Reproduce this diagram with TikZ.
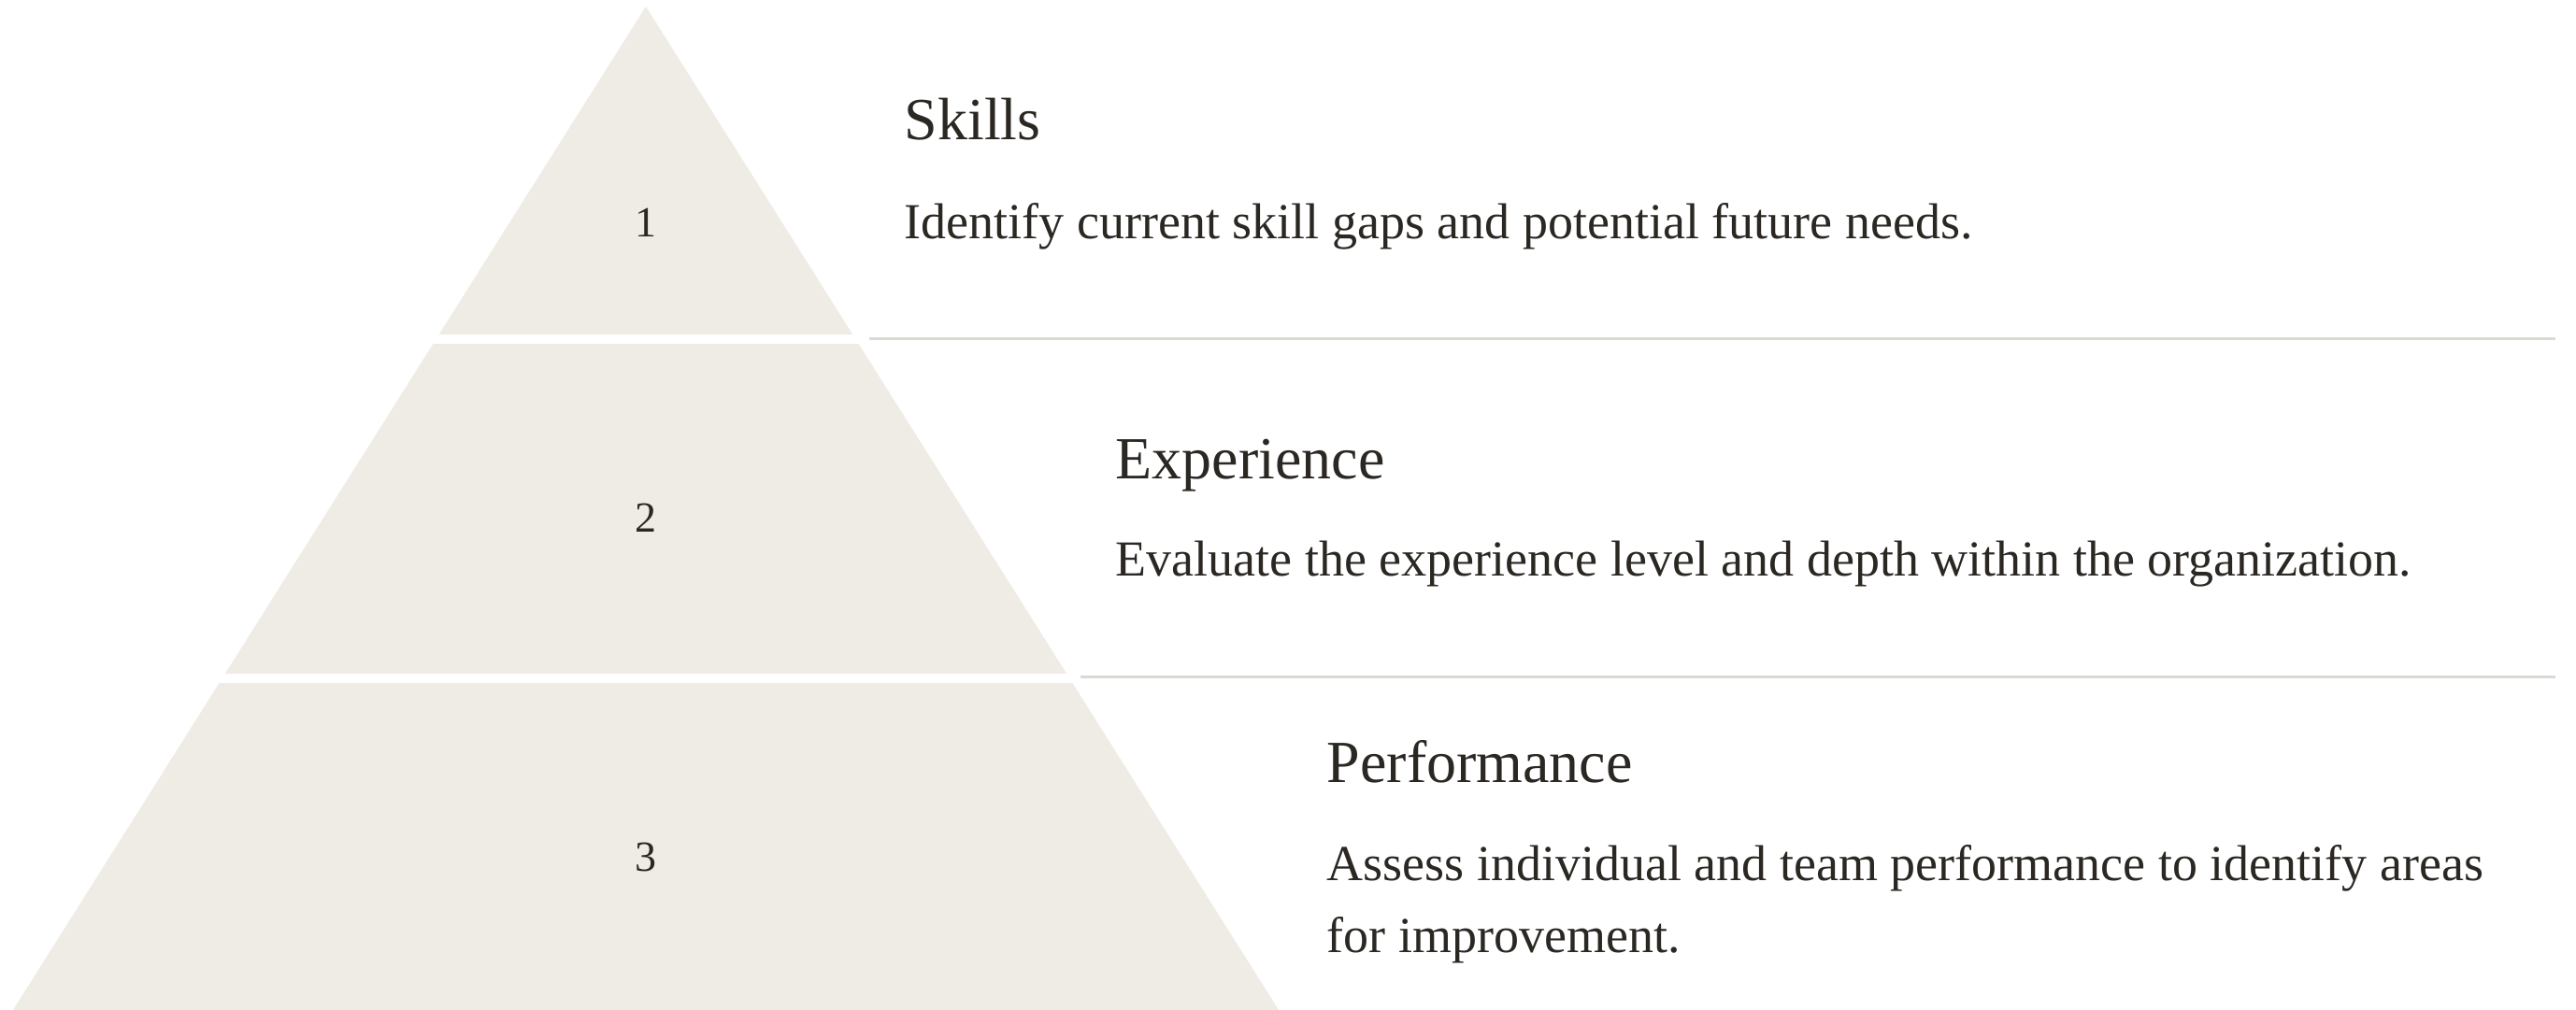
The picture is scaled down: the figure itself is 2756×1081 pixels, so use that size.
\documentclass[tikz,border=0pt]{standalone}
\usepackage{fontspec}
\setmainfont{Liberation Serif}
\definecolor{tierfill}{HTML}{EFECE5}
\definecolor{ink}{HTML}{2B2823}
\definecolor{rule}{HTML}{DCD9D2}
\begin{document}
\begin{tikzpicture}[x=0.25pt,y=-0.25pt,
  tier/.style={fill=tierfill,draw=none},
  num/.style={anchor=base,inner sep=0pt,text=ink,font=\fontsize{11.5pt}{11.5pt}\selectfont},
  head/.style={anchor=base west,inner sep=0pt,text=ink,font=\fontsize{16pt}{16pt}\selectfont},
  body/.style={anchor=base west,inner sep=0pt,text=ink,font=\fontsize{13.5pt}{19.25pt}\selectfont},
  sep/.style={draw=rule,line width=0.75pt}]
\useasboundingbox (0,0) rectangle (2756,1081);
\fill[white] (0,0) rectangle (2756,1081);

% pyramid tiers (apex 691,7; base 14..1368 at y=1081)
\path[tier] (691,7) -- (912.3,358) -- (469.7,358) -- cycle;
\path[tier] (463.4,368) -- (918.6,368) -- (1141.1,721) -- (240.9,721) -- cycle;
\path[tier] (234.6,731) -- (1147.4,731) -- (1368,1081) -- (14,1081) -- cycle;

% tier numbers
\node[num] (n1) at (691,253) {1};
\node[num] (n2) at (691,569) {2};
\node[num] (n3) at (691,932) {3};

% separators
\coordinate (s1a) at (930,362.5);
\coordinate (s1b) at (2734,362.5);
\coordinate (s2a) at (1156,724.5);
\coordinate (s2b) at (2734,724.5);
\draw[sep] (s1a) -- (s1b);
\draw[sep] (s2a) -- (s2b);

% labels
\node[head] (h1) at (967,150) {Skills};
\node[body] (b1) at (967,255) {Identify current skill gaps and potential future needs.};
\node[head] (h2) at (1193,512) {Experience};
\node[body] (b2) at (1193,616) {Evaluate the experience level and depth within the organization.};
\node[head] (h3) at (1419,837) {Performance};
\node[body] (b3) at (1419,942) {\vtop{\hbox{Assess individual and team performance to identify areas}\hbox{for improvement.}}};
\end{tikzpicture}
\end{document}
